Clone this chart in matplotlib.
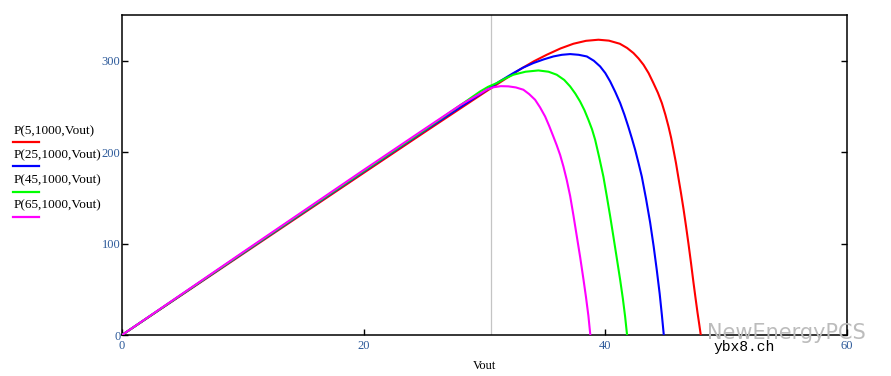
import matplotlib
matplotlib.use("Agg")
import matplotlib.pyplot as plt
from matplotlib.lines import Line2D

# 读取自图片的曲线数据 (Vout, P)
red_v = [0, 10, 20, 25, 30, 33, 34.1, 35.16, 36.3, 37.36, 38.4, 39.43, 40.3, 41.2,
         41.8, 42.33, 42.75, 43.16, 43.58, 43.98, 44.35, 44.68, 44.97, 45.23, 45.45,
         45.64, 45.85, 46.05, 46.26, 46.47, 46.68, 46.88, 47.09, 47.29, 47.46, 47.63,
         47.77, 47.9]
red_p = [0, 88.7, 177.3, 221.5, 265.3, 291, 299.5, 306.6, 313.5, 318.6, 321.8, 323,
         322, 318.6, 314, 308.4, 302.5, 295.6, 286.5, 275.6, 265, 253.7, 241, 228,
         215.5, 202.6, 188, 172, 155.5, 138, 119, 100, 79, 58, 41, 24.5, 12, 0]

blue_v = [0, 10, 20, 25, 30, 31.2, 32.39, 33.2, 34.05, 34.9, 35.7, 36.4, 37.09, 37.8,
          38.47, 39.05, 39.57, 40.0, 40.4, 40.82, 41.23, 41.58, 41.9, 42.2, 42.47,
          42.75, 43.02, 43.37, 43.71, 44.0, 44.26, 44.5, 44.68, 44.84]
blue_p = [0, 89.4, 178.6, 223, 266.5, 277, 286.5, 292.5, 297.5, 301.5, 304.7, 306.5,
          307.3, 306.5, 304.7, 300, 293.8, 286.5, 277.4, 266, 253.7, 241, 228, 215,
          202.6, 188, 173.3, 149, 123, 97, 71, 45, 22, 0]

green_v = [0, 10, 20, 25, 29.64, 30.3, 31.02, 31.7, 32.39, 33.4, 34.46, 35.3, 35.98,
           36.6, 37.09, 37.52, 37.91, 38.27, 38.6, 38.9, 39.16, 39.5, 39.84, 40.12,
           40.4, 40.67, 40.95, 41.23, 41.45, 41.64, 41.8]
green_p = [0, 89.8, 179.3, 223.8, 266.4, 271.5, 275.6, 280.5, 284.7, 288, 289.4, 288,
           284.7, 279, 271.9, 264, 255.5, 246, 235.4, 225, 213.5, 194, 173.3, 152,
           130, 107.6, 84, 60.2, 40, 20, 0]

mag_v = [0, 10, 20, 25, 28, 29.64, 30.2, 30.74, 31.35, 31.98, 32.6, 33.22, 33.7, 34.19,
         34.6, 35.02, 35.36, 35.7, 35.98, 36.26, 36.54, 36.81, 37.09, 37.36, 37.64,
         37.92, 38.19, 38.4, 38.6, 38.76]
mag_p = [0, 90.5, 180.5, 225, 251.5, 264, 268.5, 271, 272.2, 272, 270.8, 268.3, 263.5,
         257.3, 249, 239, 228.5, 217.1, 207.5, 197, 184, 169.5, 152, 131, 108,
         85, 61, 41.5, 21, 0]

labels = ["P(5,1000,Vout)", "P(25,1000,Vout)", "P(45,1000,Vout)", "P(65,1000,Vout)"]
colors = ["#ff0000", "#0000ff", "#00ff00", "#ff00ff"]
x_ticks = [0, 20, 40, 60]
y_ticks = [0, 100, 200, 300]
cursor_v = 30.55

serif = "Liberation Serif"
tick_color = "#2d5a9a"

fig = plt.figure(figsize=(8.91, 3.76), dpi=100)
ax = fig.add_axes([0.1369, 0.109, 0.8137, 0.851])

ax.axvline(cursor_v, color="#c4c4c4", lw=0.9, zorder=1)

for v, p, c in zip([red_v, blue_v, green_v, mag_v], [red_p, blue_p, green_p, mag_p], colors):
    ax.plot(v, p, color=c, lw=1.5, zorder=3, solid_joinstyle="round")

ax.set_xlim(0, 60)
ax.set_ylim(0, 350)
ax.set_xticks(x_ticks)
ax.set_yticks(y_ticks)
ax.tick_params(axis="both", direction="in", length=4.5, width=1, colors="black",
               labelcolor=tick_color, labelsize=9, pad=3.5)
ax.tick_params(axis="y", right=True, pad=1)
for lab in ax.get_xticklabels() + ax.get_yticklabels():
    lab.set_family(serif)
for s in ax.spines.values():
    s.set_linewidth(1.1)

ax.set_xlabel("Vout", family=serif, fontsize=9, labelpad=6)

# 左侧图例
text_y = [131, 155, 180.5, 205.5]
line_y = [142, 166.5, 191.5, 216.5]
H = 376.0
W = 891.0
for lab, c, ty, ly in zip(labels, colors, text_y, line_y):
    fig.text(14 / W, 1 - ty / H, lab, family=serif, fontsize=9.5, va="center", ha="left")
    fig.add_artist(Line2D([13 / W, 39 / W], [1 - ly / H, 1 - ly / H], color=c, lw=1.6))

# 水印
fig.text(707 / W, 1 - 333 / H, "NewEnergyPCS", fontsize=15, color="#bcbcbc",
         va="center", ha="left", zorder=10)
fig.text(713 / W, 1 - 347 / H, "ybx8.ch", family="Liberation Mono", fontsize=10.5,
         color="black", va="center", ha="left", zorder=11)

fig.savefig("out.png", dpi=100)
